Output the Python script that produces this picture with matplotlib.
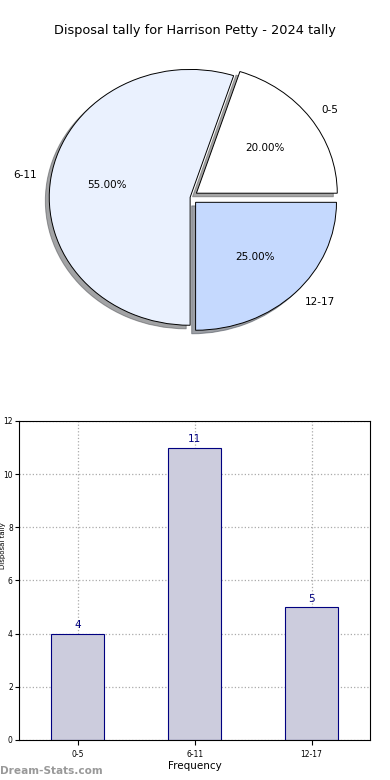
import numpy as np
import matplotlib
matplotlib.use('Agg')
import matplotlib.pyplot as plt

# data
categories = ['0-5', '6-11', '12-17']
counts = [4, 11, 5]
pie_colors = ['#ffffff', '#eaf1fe', '#c5d9fe']
explode = [0.055, 0.0, 0.055]

fig = plt.figure(figsize=(3.9, 7.8), dpi=100)
fig.text(0.5, 0.961, 'Disposal tally for Harrison Petty - 2024 tally',
         ha='center', va='center', fontsize=9.3)

# pie chart
ax1 = fig.add_axes([0.036, 0.542, 0.903, 0.410])
wedges, texts, autotexts = ax1.pie(counts, labels=categories, colors=pie_colors,
                                   explode=explode, autopct='%.2f%%', shadow=True,
                                   startangle=0, labeldistance=1.1, pctdistance=0.6,
                                   wedgeprops={'edgecolor': 'black', 'linewidth': 0.7},
                                   textprops={'fontsize': 7.5})
ax1.set_aspect('auto')
ax1.set_xlim(-1.25, 1.25)
ax1.set_ylim(-1.25, 1.25)

# bar chart
ax2 = fig.add_axes([0.049, 0.0513, 0.900, 0.409])
x = np.arange(len(categories))
ax2.bar(x, counts, width=0.45, color='#ccccdd', edgecolor='navy', linewidth=0.8, zorder=2)
for xi, v in zip(x, counts):
    ax2.text(xi, v + 0.12, str(v), ha='center', va='bottom', color='navy', fontsize=7.5)
ax2.set_xlim(-0.5, 2.5)
ax2.set_ylim(0, 12)
ax2.set_xticks(x)
ax2.set_xticklabels(categories, fontsize=5.5)
ax2.set_yticks(range(0, 13, 2))
ax2.tick_params(axis='y', labelsize=5.5, pad=1.5, length=3)
ax2.grid(True, linestyle=':', color='#aaaaaa', linewidth=0.9, zorder=0)
ax2.set_axisbelow(True)
ax2.set_xlabel('Frequency', fontsize=7.5, labelpad=2)
fig.text(0.0, 0.300, 'Disposal tally', rotation=90, ha='left', va='center', fontsize=5)

fig.text(0.0, 0.012, 'Dream-Stats.com', fontsize=7.6, color='#999999',
         fontweight='bold', ha='left', va='center')

fig.savefig('out.png', dpi=100)
